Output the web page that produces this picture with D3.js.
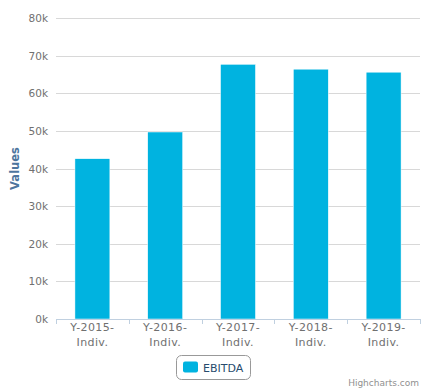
<!DOCTYPE html>
<html><head><meta charset="utf-8">
<script src="https://cdn.jsdelivr.net/npm/d3@7"></script>
<style>body{margin:0;background:#fff}svg{display:block;font-family:"DejaVu Sans",Verdana,sans-serif}</style>
</head><body><svg id="c" width="423" height="389"></svg>
<script>
const categories = [["Y-2015-","Indiv."],["Y-2016-","Indiv."],["Y-2017-","Indiv."],["Y-2018-","Indiv."],["Y-2019-","Indiv."]];
const seriesName = "EBITDA";
const values = [42600, 49700, 67700, 66400, 65600];
const yTicks = [0,10000,20000,30000,40000,50000,60000,70000,80000];

const svg = d3.select("#c");
const L = 56, R = 420, T = 18, B = 319;
const x = d3.scaleBand().domain(d3.range(categories.length)).range([L,R]).paddingInner(0).paddingOuter(0);
const y = d3.scaleLinear().domain([0,80000]).range([B,T]);

// grid
svg.append("g").selectAll("line").data(yTicks.filter(d=>d>0)).join("line")
  .attr("x1",L).attr("x2",R).attr("y1",d=>Math.round(y(d))+0.5).attr("y2",d=>Math.round(y(d))+0.5)
  .attr("stroke","#d8d8d8").attr("stroke-width",1);

// y labels
svg.append("g").selectAll("text").data(yTicks).join("text")
  .attr("x",48).attr("y",d=>y(d)+4).attr("text-anchor","end")
  .attr("font-size","10.5px").attr("fill","#707070").text(d=>(d/1000)+"k");

// y title
svg.append("text").attr("transform",`translate(19,${(T+B)/2}) rotate(-90)`)
  .attr("text-anchor","middle").attr("font-size","11.5px").attr("font-weight","bold")
  .attr("fill","#4d759e").text("Values");

// bars
const bw = x.bandwidth();
const barW = bw*0.6*0.8;
svg.append("g").selectAll("rect").data(values).join("rect")
  .attr("x",(d,i)=>x(i)+bw/2-barW/2).attr("width",barW)
  .attr("y",d=>y(d)).attr("height",d=>B-y(d))
  .attr("fill","#00b3e0").attr("stroke","#fff").attr("stroke-width",0.5);

// x axis
svg.append("line").attr("x1",L).attr("x2",R).attr("y1",B+0.5).attr("y2",B+0.5).attr("stroke","#c0d0e0");
svg.append("g").selectAll("line").data(d3.range(categories.length+1)).join("line")
  .attr("x1",i=>Math.round(L+i*bw)+0.5).attr("x2",i=>Math.round(L+i*bw)+0.5)
  .attr("y1",B).attr("y2",B+5).attr("stroke","#c0d0e0");
const xl = svg.append("g").selectAll("text").data(categories).join("text")
  .attr("x",(d,i)=>x(i)+bw/2).attr("y",331).attr("text-anchor","middle")
  .attr("font-size","11px").attr("letter-spacing","0.4px").attr("fill","#707070");
xl.append("tspan").attr("x",(d,i)=>x(i)+bw/2).attr("dy",0).text(d=>d[0]);
xl.append("tspan").attr("x",(d,i)=>x(i)+bw/2).attr("dy",15).text(d=>d[1]);

// legend
const lg = svg.append("g");
lg.append("rect").attr("x",176.5).attr("y",355.5).attr("width",74).attr("height",24).attr("rx",5)
  .attr("fill","#fff").attr("stroke","#999");
lg.append("rect").attr("x",183).attr("y",361.5).attr("width",15).attr("height",11).attr("rx",2).attr("fill","#00b3e0");
lg.append("text").attr("x",203).attr("y",371.5).attr("font-size","11px").attr("fill","#274b6d").text(seriesName);

// credit
svg.append("text").attr("x",419).attr("y",386).attr("text-anchor","end").attr("font-size","9px").attr("fill","#909090").text("Highcharts.com");
</script></body></html>
